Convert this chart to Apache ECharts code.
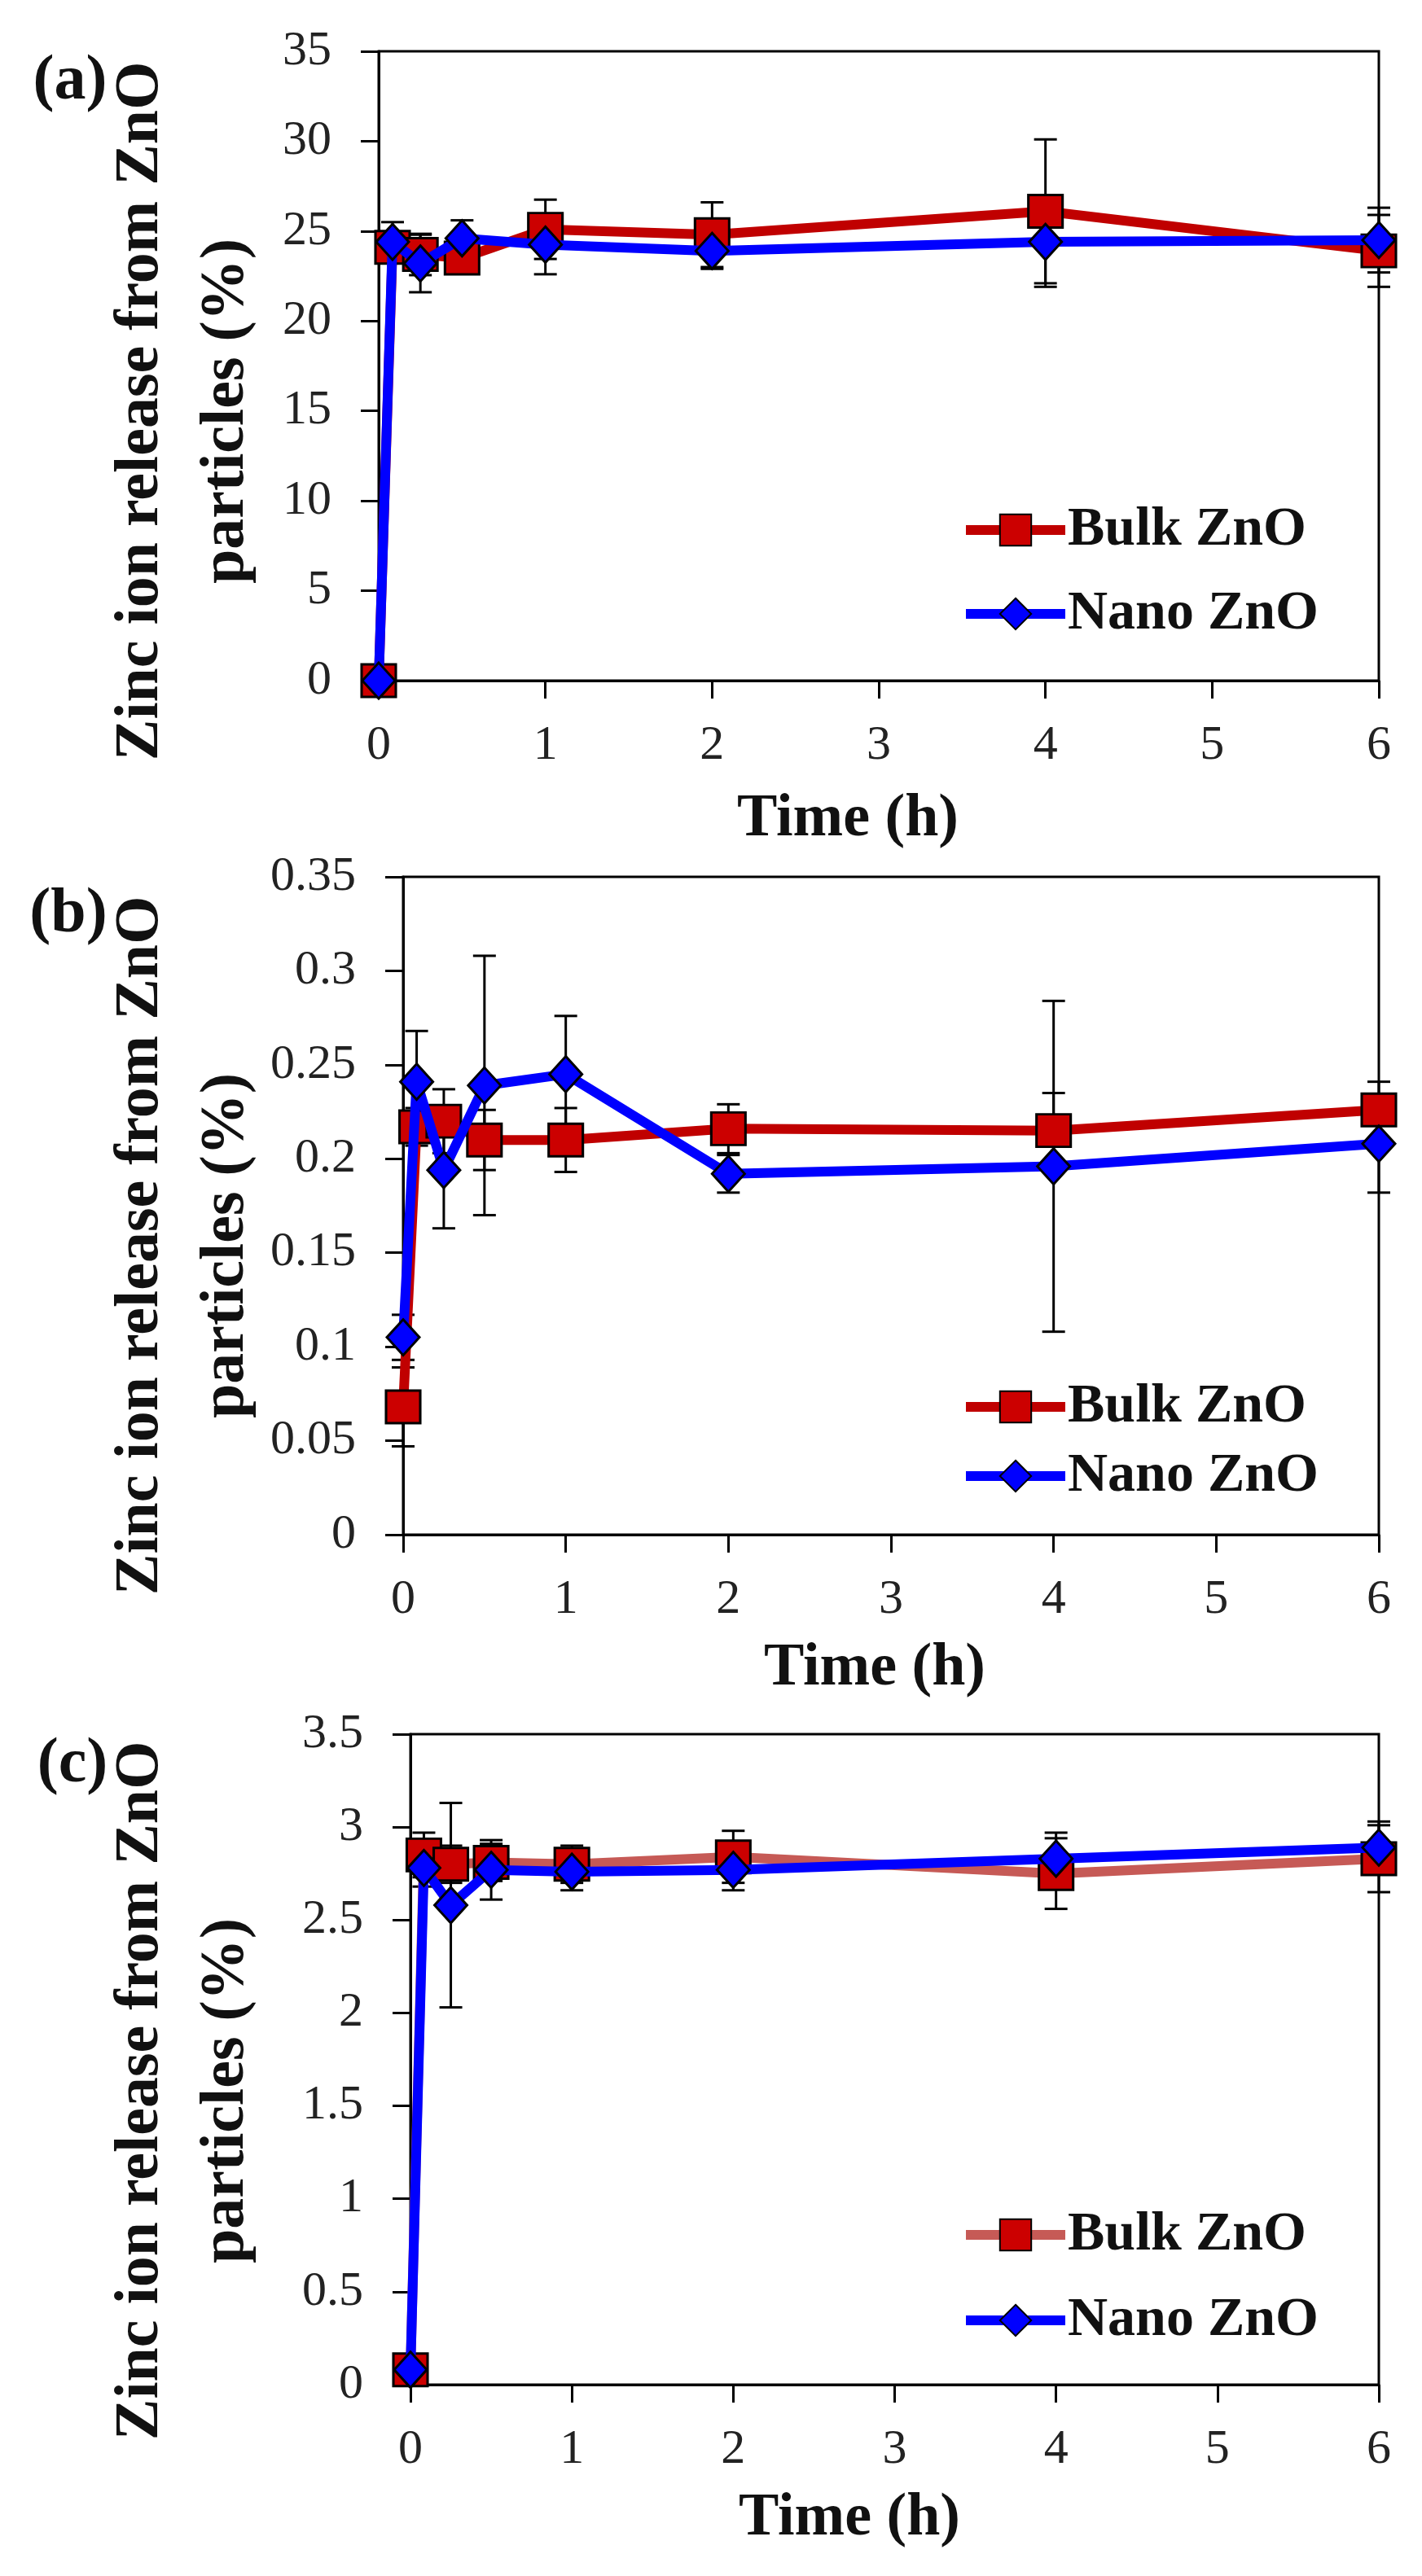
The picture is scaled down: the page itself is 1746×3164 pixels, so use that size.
<!DOCTYPE html>
<html><head><meta charset="utf-8">
<script src="https://cdn.jsdelivr.net/npm/echarts@6/dist/echarts.min.js"></script>
<style>html,body{margin:0;padding:0;background:#fff}#c{width:1746px;height:3164px}</style>
</head><body><div id="c"></div>
<script>
// ---------- data ----------
const timeH = [0, 0.083, 0.25, 0.5, 1, 2, 4, 6];
const xTicks = [0, 1, 2, 3, 4, 5, 6];
const seriesNames = ['Bulk ZnO', 'Nano ZnO'];

// panel (a)
const bulkA    = [0, 24.1, 23.7, 23.5, 25.1, 24.8, 26.1, 23.9];
const bulkAErr = [0, 0.8, 1.15, 0.4, 1.65, 1.8, 4.0, 2.0];
const nanoA    = [0, 24.4, 23.2, 24.6, 24.25, 23.9, 24.4, 24.5];
const nanoAErr = [0, 1.1, 1.6, 1.0, 1.65, 1.0, 2.5, 1.8];
const yTicksA  = [0, 5, 10, 15, 20, 25, 30, 35];

// panel (b)
const bulkB    = [0.068, 0.217, 0.220, 0.210, 0.210, 0.216, 0.215, 0.226];
const bulkBErr = [0.021, 0.010, 0.017, 0.016, 0.017, 0.013, 0.020, 0.015];
const nanoB    = [0.105, 0.241, 0.194, 0.239, 0.245, 0.192, 0.196, 0.208];
const nanoBErr = [0.012, 0.027, 0.031, 0.069, 0.031, 0.010, 0.088, 0.026];
const yTicksB  = [0, 0.05, 0.1, 0.15, 0.2, 0.25, 0.3, 0.35];

// panel (c)
const bulkC    = [0.08, 2.85, 2.80, 2.81, 2.80, 2.84, 2.75, 2.83];
const bulkCErr = [0.02, 0.12, 0.10, 0.10, 0.10, 0.14, 0.19, 0.18];
const nanoC    = [0.08, 2.78, 2.58, 2.77, 2.76, 2.77, 2.83, 2.89];
const nanoCErr = [0.01, 0.10, 0.55, 0.16, 0.10, 0.11, 0.14, 0.14];
const yTicksC  = [0, 0.5, 1, 1.5, 2, 2.5, 3, 3.5];

const panelLabels = ['(a)', '(b)', '(c)'];
const yTitle1 = 'Zinc ion release from ZnO';
const yTitle2 = 'particles (%)';
const xTitle = 'Time (h)';

// ---------- layout / style ----------
const SERIF = '"Liberation Serif", "Times New Roman", serif';
const panels = [
  { bulk: bulkA, bulkErr: bulkAErr, nano: nanoA, nanoErr: nanoAErr, ticks: yTicksA,
    grid: { left: 465, top: 63, height: 773 }, legendTop: 612, legendGap: 35,
    bulkLine: '#c00000', label: [86, 101], yTitleY: 505, xTitlePos: [1041, 1007] },
  { bulk: bulkB, bulkErr: bulkBErr, nano: nanoB, nanoErr: nanoBErr, ticks: yTicksB,
    grid: { left: 495, top: 1077, height: 808 }, legendTop: 1689, legendGap: 17,
    bulkLine: '#c00000', label: [84, 1124], yTitleY: 1530, xTitlePos: [1074, 2050] },
  { bulk: bulkC, bulkErr: bulkCErr, nano: nanoC, nanoErr: nanoCErr, ticks: yTicksC,
    grid: { left: 504, top: 2130, height: 799 }, legendTop: 2706, legendGap: 37,
    bulkLine: '#c65a56', label: [89, 2168], yTitleY: 2568, xTitlePos: [1043, 3094] }
];

function errRender(params, api) {
  const x = api.value(0), lo = api.value(1), hi = api.value(2);
  const a = api.coord([x, lo]), b = api.coord([x, hi]);
  const hw = 14;
  const st = { stroke: '#000', lineWidth: 3 };
  return { type: 'group', children: [
    { type: 'line', shape: { x1: a[0], y1: a[1], x2: b[0], y2: b[1] }, style: st },
    { type: 'line', shape: { x1: a[0] - hw, y1: a[1], x2: a[0] + hw, y2: a[1] }, style: st },
    { type: 'line', shape: { x1: b[0] - hw, y1: b[1], x2: b[0] + hw, y2: b[1] }, style: st }
  ]};
}

const grids = [], xAxes = [], yAxes = [], series = [], legends = [], graphics = [];
panels.forEach((p, i) => {
  const tag = ' [' + i + ']';
  grids.push({ left: p.grid.left, right: 53, top: p.grid.top, height: p.grid.height,
    show: true, borderColor: '#000', borderWidth: 3, backgroundColor: 'transparent' });
  xAxes.push({ type: 'value', gridIndex: i, min: xTicks[0], max: xTicks[xTicks.length - 1], interval: 1,
    axisLine: { lineStyle: { color: '#000', width: 3 } },
    axisTick: { inside: false, length: 22, lineStyle: { color: '#000', width: 3 } },
    axisLabel: { margin: 50, fontFamily: SERIF, fontSize: 60, color: '#222' },
    splitLine: { show: false } });
  const step = p.ticks[1] - p.ticks[0];
  yAxes.push({ type: 'value', gridIndex: i, min: p.ticks[0], max: p.ticks[p.ticks.length - 1], interval: step,
    axisLine: { lineStyle: { color: '#000', width: 3 } },
    axisTick: { inside: false, length: 22, lineStyle: { color: '#000', width: 3 } },
    axisLabel: { margin: 58, fontFamily: SERIF, fontSize: 60, color: '#222' },
    splitLine: { show: false } });

  const bulkName = seriesNames[0] + tag, nanoName = seriesNames[1] + tag;
  series.push({ type: 'custom', xAxisIndex: i, yAxisIndex: i, z: 1, silent: true,
    renderItem: errRender, encode: { x: 0, y: [1, 2] },
    data: timeH.map((t, k) => [t, p.bulk[k] - p.bulkErr[k], p.bulk[k] + p.bulkErr[k]]) });
  series.push({ type: 'custom', xAxisIndex: i, yAxisIndex: i, z: 1, silent: true,
    renderItem: errRender, encode: { x: 0, y: [1, 2] },
    data: timeH.map((t, k) => [t, p.nano[k] - p.nanoErr[k], p.nano[k] + p.nanoErr[k]]) });
  series.push({ name: bulkName, type: 'line', xAxisIndex: i, yAxisIndex: i, z: 2,
    data: timeH.map((t, k) => [t, p.bulk[k]]),
    symbol: 'rect', symbolSize: [42, 40], showAllSymbol: true,
    lineStyle: { color: p.bulkLine, width: 12 },
    itemStyle: { color: '#cc0000', borderColor: '#000', borderWidth: 3 },
    emphasis: { disabled: true }, animation: false });
  series.push({ name: nanoName, type: 'line', xAxisIndex: i, yAxisIndex: i, z: 3,
    data: timeH.map((t, k) => [t, p.nano[k]]),
    symbol: 'diamond', symbolSize: [40, 44], showAllSymbol: true,
    lineStyle: { color: '#0000ff', width: 12 },
    itemStyle: { color: '#0000ff', borderColor: '#000', borderWidth: 3 },
    emphasis: { disabled: true }, animation: false });

  legends.push({ orient: 'vertical', left: 1175, top: p.legendTop, itemGap: p.legendGap,
    itemWidth: 122, itemHeight: 48, selectedMode: false,
    data: [bulkName, nanoName],
    lineStyle: { width: 12 },
    formatter: n => n.replace(/ \[\d\]$/, ''),
    textStyle: { fontFamily: SERIF, fontWeight: 'bold', fontSize: 68, color: '#111', padding: [0, 0, 0, -2] } });

  graphics.push({ type: 'text', x: p.label[0], y: p.label[1],
    style: { text: panelLabels[i], font: 'bold 78px ' + SERIF, fill: '#111', textAlign: 'center', textVerticalAlign: 'middle' } });
  graphics.push({ type: 'text', x: 173, y: p.yTitleY, rotation: Math.PI / 2,
    style: { text: yTitle1, font: 'bold 76px ' + SERIF, fill: '#111', textAlign: 'center', textVerticalAlign: 'middle' } });
  graphics.push({ type: 'text', x: 278, y: p.yTitleY, rotation: Math.PI / 2,
    style: { text: yTitle2, font: 'bold 76px ' + SERIF, fill: '#111', textAlign: 'center', textVerticalAlign: 'middle' } });
  graphics.push({ type: 'text', x: p.xTitlePos[0], y: p.xTitlePos[1],
    style: { text: xTitle, font: 'bold 74px ' + SERIF, fill: '#111', textAlign: 'center', textVerticalAlign: 'middle' } });
});

const chart = echarts.init(document.getElementById('c'), null, { renderer: 'canvas' });
chart.setOption({
  backgroundColor: '#fff',
  animation: false,
  grid: grids, xAxis: xAxes, yAxis: yAxes, series: series, legend: legends,
  graphic: { elements: graphics }
});
</script>
</body></html>
